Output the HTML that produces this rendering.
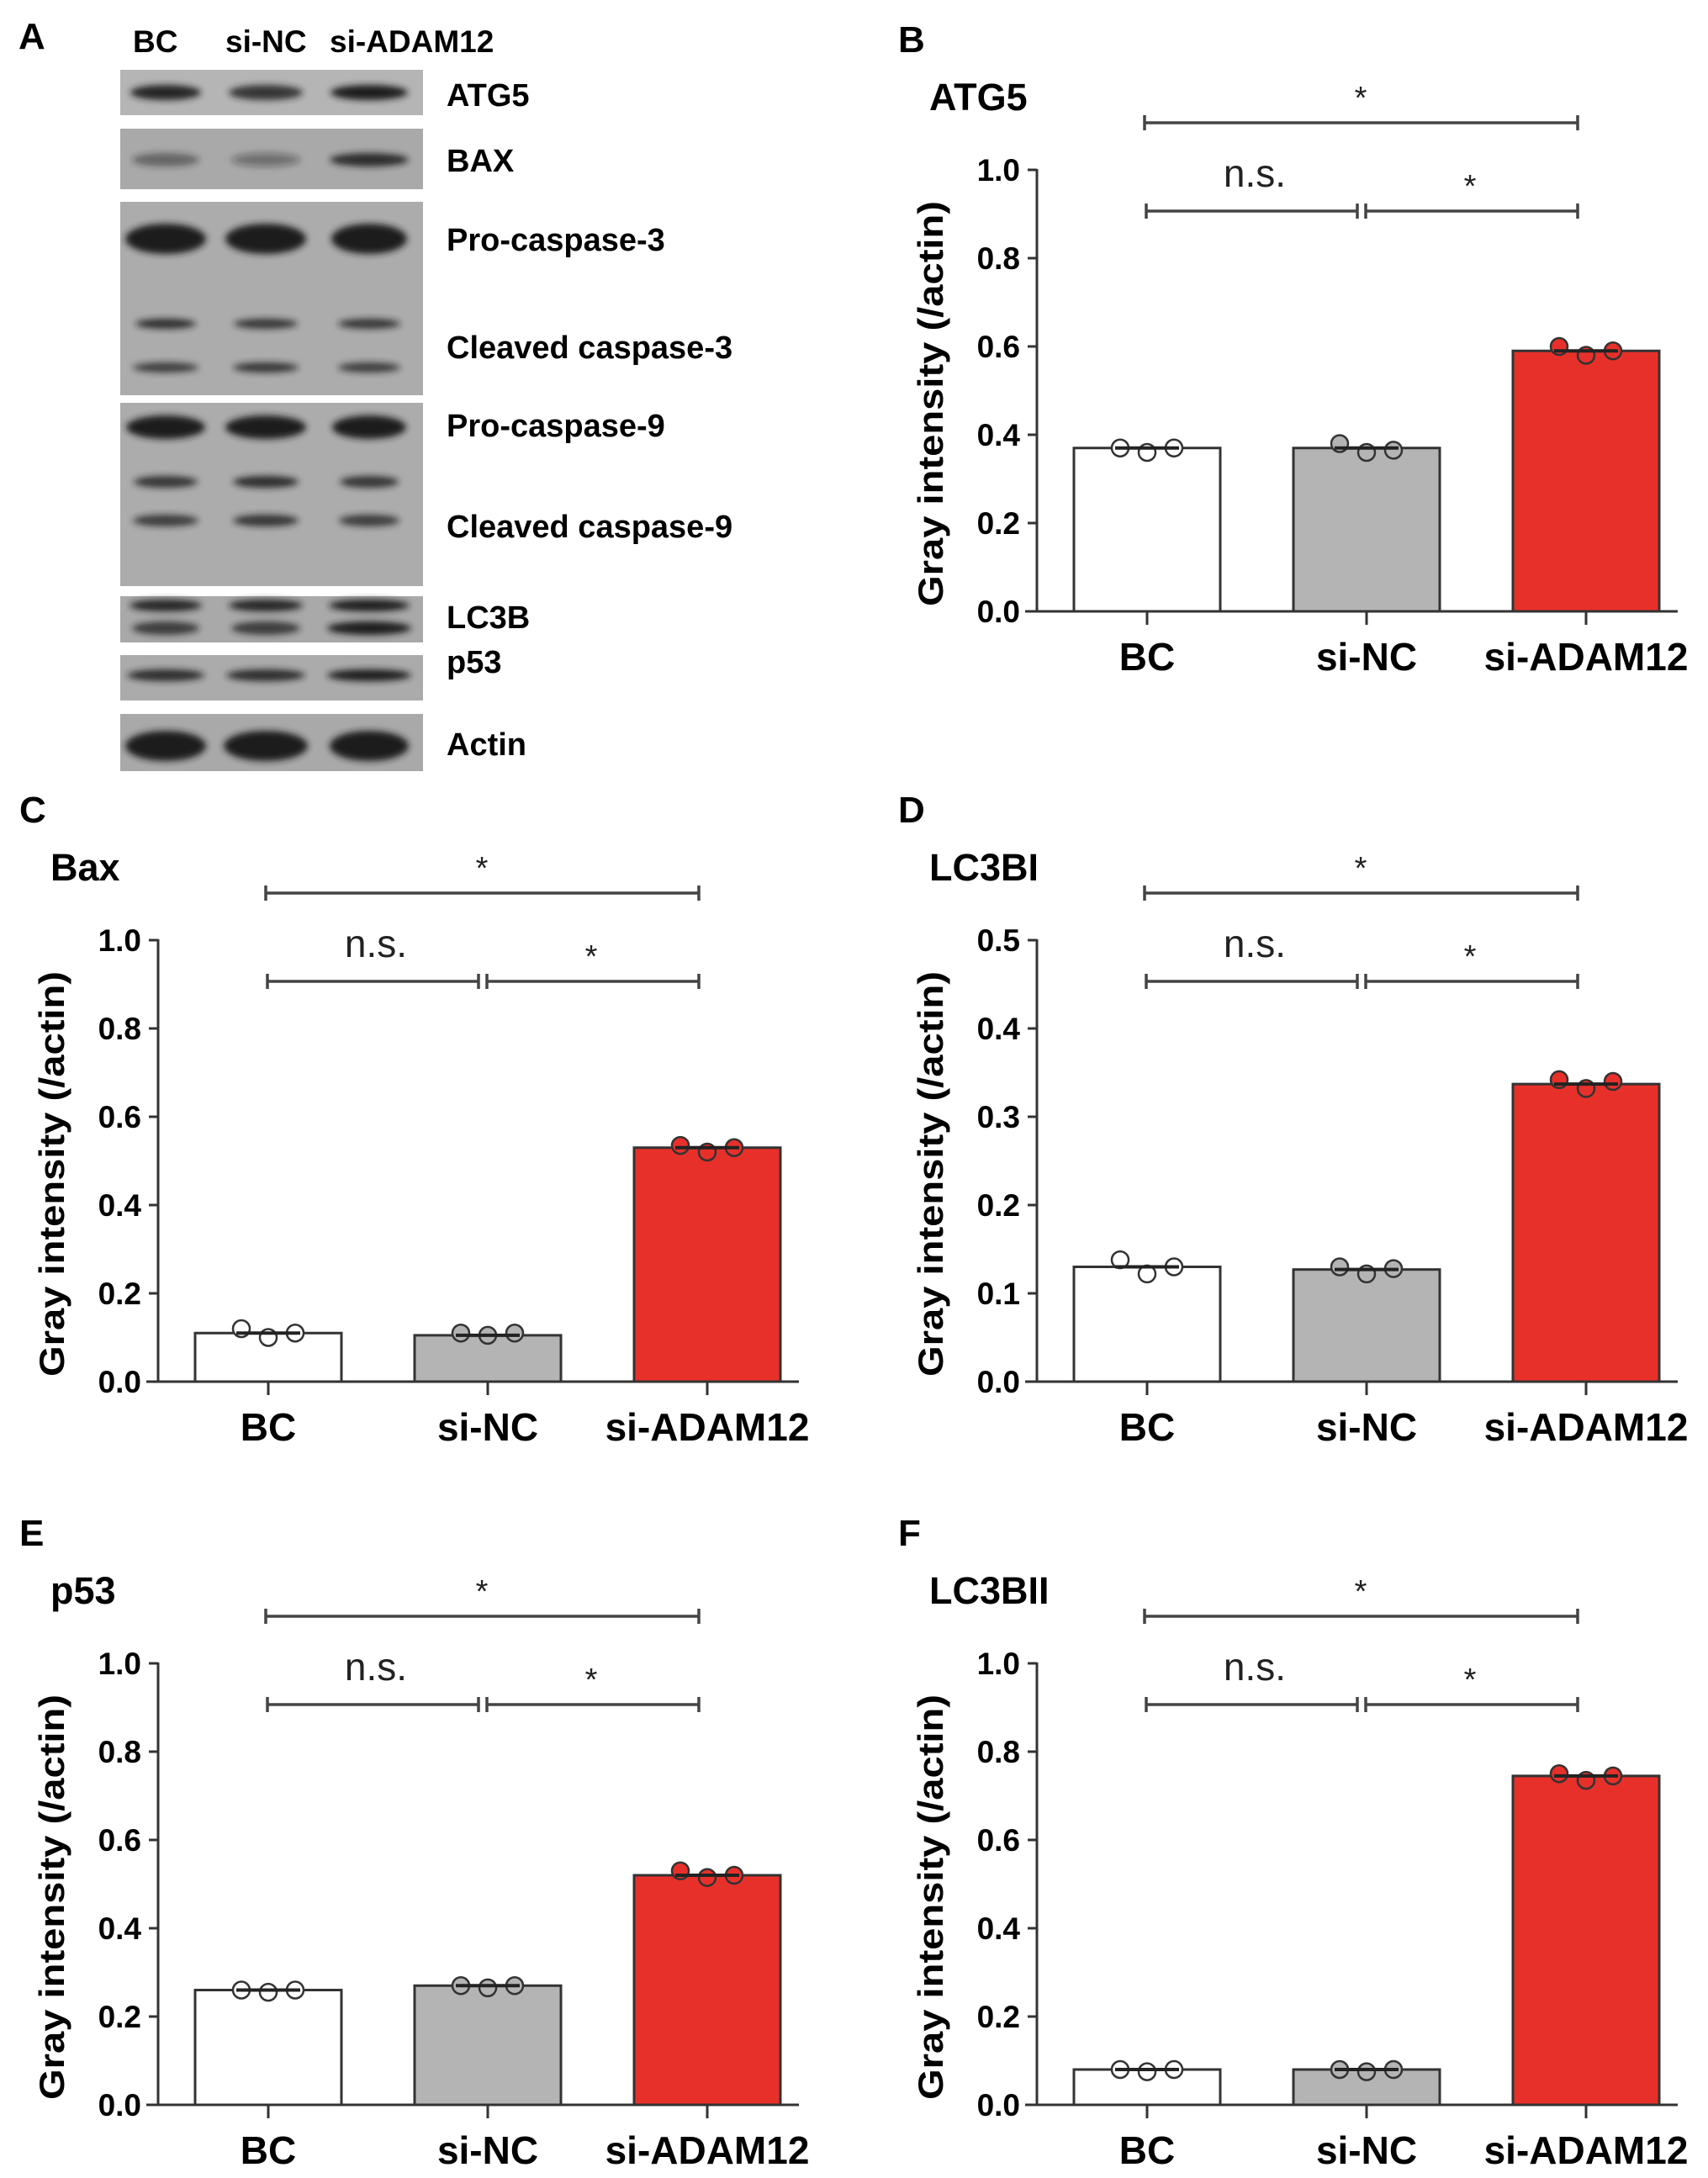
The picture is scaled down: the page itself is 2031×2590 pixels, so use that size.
<!DOCTYPE html>
<html><head><meta charset="utf-8"><style>
html,body{margin:0;padding:0;background:#fff;}
svg{display:block;font-family:"Liberation Sans",Arial,sans-serif;}
</style></head><body>
<svg id="fig" width="2031" height="2590" viewBox="0 0 2031 2590" xmlns="http://www.w3.org/2000/svg">
<defs><filter id="blur" x="-20%" y="-60%" width="140%" height="220%"><feGaussianBlur stdDeviation="4"/></filter></defs>
<g id="blot">
<text x="22" y="58" font-size="44" font-weight="bold">A</text>
<text x="158" y="62" font-size="37" font-weight="bold">BC</text>
<text x="268" y="62" font-size="37" font-weight="bold">si-NC</text>
<text x="392" y="62" font-size="37" font-weight="bold">si-ADAM12</text>
</g>
</svg>
<script>
const NS='http://www.w3.org/2000/svg';
const svg=document.getElementById('fig');
function mk(tag,attrs,parent,txt){const e=document.createElementNS(NS,tag);for(const k in attrs)e.setAttribute(k,attrs[k]);if(txt!==undefined)e.textContent=txt;(parent||svg).appendChild(e);return e;}

// ---------- Western blot ----------
const blot=document.getElementById('blot');
const blotBoxes=[[83,137,'#b5b5b5'],[153,225,'#a9a9a9'],[240,470,'#acacac'],[479,697,'#acacac'],[709,764,'#a9a9a9'],[779,833,'#ababab'],[849,917,'#a9a9a9']];
blotBoxes.forEach(b=>{const r=mk('rect',{x:143,y:b[0],width:360,height:b[1]-b[0],fill:b[2]},blot);

});
const lanes=[197,316,439];
const bands=[[110,18,[84,88,92],[0.95,0.85,1]],[190,16,[80,82,94],[0.5,0.4,0.9]],[284,36,[96,96,90],[1,1,1]],[385,12,[72,76,74],[0.9,0.85,0.85]],[437,12,[78,78,74],[0.8,0.85,0.8]],[508,28,[94,96,88],[1,1,1]],[573,14,[76,78,70],[0.85,0.9,0.85]],[619,14,[78,78,72],[0.8,0.85,0.8]],[720,14,[86,88,96],[0.95,0.95,1]],[747,16,[80,82,100],[0.8,0.8,1]],[803,14,[92,94,100],[0.9,0.9,1]],[887,36,[96,100,94],[1,1,1]]];
bands.forEach(b=>{lanes.forEach((cx,i)=>{const e=mk('ellipse',{cx:cx,cy:b[0],rx:b[2][i]/2,ry:b[1]/2,fill:'#1e1e1e','fill-opacity':b[3][i],filter:'url(#blur)'},blot);

});});
const blotLabels=[['ATG5',126],['BAX',204],['Pro-caspase-3',298],['Cleaved caspase-3',426],['Pro-caspase-9',519],['Cleaved caspase-9',639],['LC3B',747],['p53',800],['Actin',898]];
blotLabels.forEach(l=>{const t=mk('text',{x:531,y:l[1],'font-size':38,'font-weight':'bold'},blot,l[0]);

});

// ---------- Chart data ----------
const categories=['BC','si-NC','si-ADAM12'];
const atg5Means=[0.37,0.37,0.59];
const atg5Points=[[0.37,0.36,0.37],[0.38,0.36,0.365],[0.60,0.58,0.59]];
const baxMeans=[0.11,0.105,0.53];
const baxPoints=[[0.12,0.10,0.11],[0.11,0.105,0.11],[0.535,0.52,0.53]];
const lc3biMeans=[0.13,0.127,0.337];
const lc3biPoints=[[0.138,0.122,0.13],[0.13,0.122,0.128],[0.342,0.332,0.34]];
const p53Means=[0.26,0.27,0.52];
const p53Points=[[0.26,0.255,0.26],[0.27,0.265,0.27],[0.53,0.515,0.52]];
const lc3biiMeans=[0.08,0.08,0.745];
const lc3biiPoints=[[0.08,0.075,0.08],[0.08,0.075,0.08],[0.75,0.735,0.745]];
const ticks10=['0.0','0.2','0.4','0.6','0.8','1.0'];
const ticks05=['0.0','0.1','0.2','0.3','0.4','0.5'];

const fills=['#ffffff','#b4b4b4','#e8302a'];
const panels=[
 {letter:'B',title:'ATG5',ax:1233,zy:727,ymax:1.0,ticks:ticks10,means:atg5Means,points:atg5Points},
 {letter:'C',title:'Bax',ax:188,zy:1643,ymax:1.0,ticks:ticks10,means:baxMeans,points:baxPoints},
 {letter:'D',title:'LC3BI',ax:1233,zy:1643,ymax:0.5,ticks:ticks05,means:lc3biMeans,points:lc3biPoints},
 {letter:'E',title:'p53',ax:188,zy:2503,ymax:1.0,ticks:ticks10,means:p53Means,points:p53Points},
 {letter:'F',title:'LC3BII',ax:1233,zy:2503,ymax:1.0,ticks:ticks10,means:lc3biiMeans,points:lc3biiPoints}
];
const H=525;
panels.forEach(p=>{
 const g=mk('g',{});
 
 
 const ax=p.ax, zy=p.zy;
 const yS=v=>zy-v/p.ymax*H;
 const xC=i=>ax+131+i*261;
 const L=mk('text',{x:ax-165,y:zy-665,'font-size':44,'font-weight':'bold'},g,p.letter);
 
 
 const T=mk('text',{x:ax-128,y:zy-596,'font-size':45,'font-weight':'bold'},g,p.title);
 
 
 const yl=mk('text',{x:0,y:0,'font-size':42,'font-weight':'bold','text-anchor':'middle',textLength:482,lengthAdjust:'spacingAndGlyphs',transform:`translate(${ax-112},${zy-247}) rotate(-90)`},g,'Gray intensity (/actin)');
 
 
 p.means.forEach((m,i)=>{
  const b=mk('rect',{x:ax+44+i*261,y:yS(m),width:174,height:zy-yS(m),fill:fills[i],stroke:'#333','stroke-width':3},g);
  
  
 });
 const ya=mk('line',{x1:ax,y1:yS(p.ymax)-1,x2:ax,y2:zy,stroke:'#333','stroke-width':3},g);
 
 
 const xa=mk('line',{x1:ax-14,y1:zy,x2:ax+762,y2:zy,stroke:'#333','stroke-width':3},g);
 
 
 p.ticks.forEach((t,k)=>{
  const v=p.ymax*k/(p.ticks.length-1);
  const tk=mk('line',{x1:ax-11,y1:yS(v),x2:ax,y2:yS(v),stroke:'#333','stroke-width':3},g);
  
  
  const tl=mk('text',{x:ax-20,y:yS(v)+13,'font-size':37,'font-weight':'bold','text-anchor':'end'},g,t);
  
  
 });
 categories.forEach((c,i)=>{
  const tk=mk('line',{x1:xC(i),y1:zy,x2:xC(i),y2:zy+16,stroke:'#333','stroke-width':3},g);
  
  
  const tl=mk('text',{x:xC(i),y:zy+70,'font-size':46,'font-weight':'bold','text-anchor':'middle'},g,c);
  
  
 });
 p.points.forEach((arr,i)=>{
  arr.forEach((v,j)=>{
   const c=mk('circle',{cx:xC(i)+(j-1)*32,cy:yS(v),r:10,fill:fills[i],stroke:'#333','stroke-width':2.5},g);
   
   
  });
  const ml=mk('line',{x1:xC(i)-38,y1:yS(p.means[i]),x2:xC(i)+38,y2:yS(p.means[i]),stroke:'#222','stroke-width':4},g);
  
  
 });
 const br=(x1,x2,y,name)=>{
  const gg=mk('g',{stroke:'#444','stroke-width':3.5},g);
  
  
  mk('line',{x1:x1,y1:y,x2:x2,y2:y},gg);
  mk('line',{x1:x1,y1:y-9,x2:x1,y2:y+9},gg);
  mk('line',{x1:x2,y1:y-9,x2:x2,y2:y+9},gg);
 };
 br(ax+128,ax+643,zy-581,'significance-bracket-bc-vs-si-adam12');
 br(ax+130,ax+381,zy-476,'significance-bracket-bc-vs-si-nc');
 br(ax+391,ax+643,zy-476,'significance-bracket-si-nc-vs-si-adam12');
 const s1=mk('text',{x:ax+385,y:zy-598,'font-size':38,'text-anchor':'middle',fill:'#222'},g,'*');
 
 
 const s2=mk('text',{x:ax+515,y:zy-493,'font-size':38,'text-anchor':'middle',fill:'#222'},g,'*');
 
 
 const ns=mk('text',{x:ax+259,y:zy-505,'font-size':46,'text-anchor':'middle',fill:'#222'},g,'n.s.');
 
 
});
</script>
</body></html>
